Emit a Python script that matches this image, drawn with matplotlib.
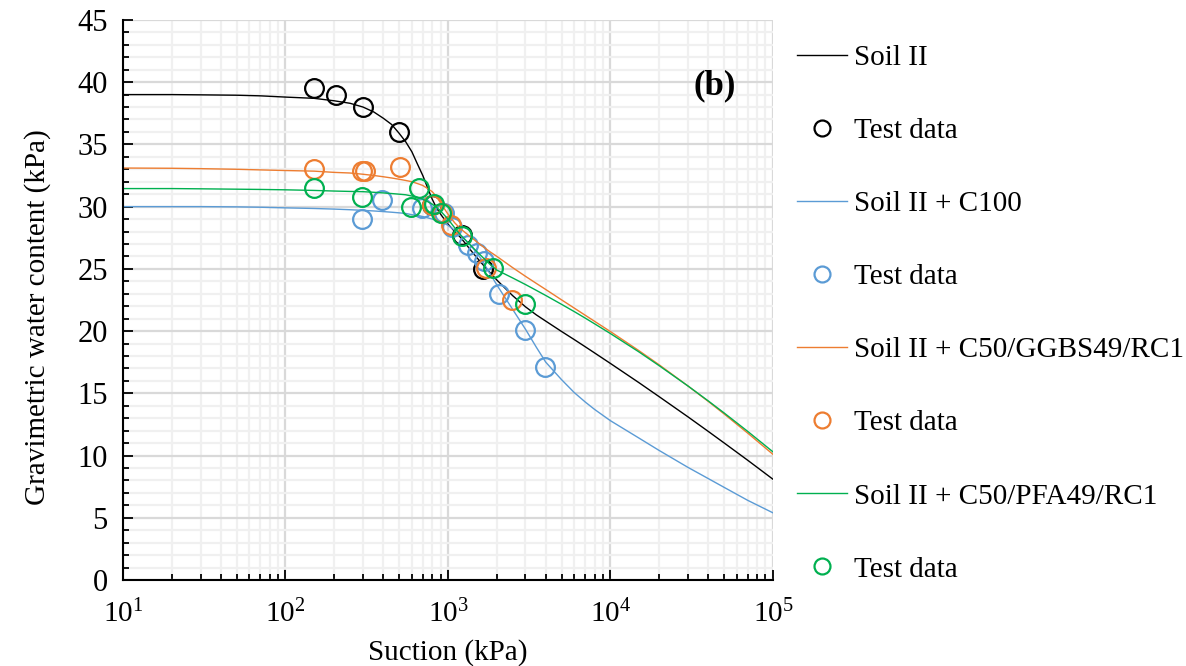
import matplotlib
matplotlib.use('Agg')
import matplotlib.pyplot as plt
from matplotlib.ticker import LogLocator, MultipleLocator, NullFormatter

plt.rcParams['font.family'] = ['Liberation Serif', 'DejaVu Serif']
plt.rcParams['mathtext.fontset'] = 'custom'
plt.rcParams['mathtext.rm'] = 'Liberation Serif'
plt.rcParams['mathtext.it'] = 'Liberation Serif:italic'

# fitted curves, suction (kPa) vs gravimetric water content
curve_suction = [10, 20, 30, 50, 70, 100, 150, 200, 250, 300, 350, 400, 450,
                 500, 550, 600, 650, 700, 750, 800, 850, 900, 1000, 1100, 1200,
                 1400, 1600, 1800, 2000, 2500, 3000, 3500, 4000, 5000, 6000,
                 7000, 8000, 10000, 15000, 20000, 30000, 40000, 50000, 70000,
                 100000]
soil2_fit = [39.0, 39.0, 38.98, 38.95, 38.9, 38.8, 38.7, 38.5, 38.3, 38.0, 37.6,
             37.1, 36.6, 35.9, 35.2, 34.4, 33.4, 32.5, 31.5, 30.6, 29.9, 29.4,
             28.6, 28.0, 27.5, 26.4, 25.5, 24.75, 24.1, 22.85, 21.95, 21.3,
             20.8, 19.97, 19.31, 18.74, 18.24, 17.4, 15.85, 14.72, 13.11, 11.94,
             11.02, 9.62, 8.1]
c100_fit = [30.0, 30.0, 30.0, 29.98, 29.95, 29.9, 29.85, 29.8, 29.75, 29.7,
            29.65, 29.6, 29.55, 29.5, 29.45, 29.35, 29.3, 29.2, 29.1, 29.0, 28.9,
            28.8, 28.5, 28.1, 27.7, 26.8, 25.8, 24.7, 23.7, 21.75, 20.15, 18.7,
            17.5, 16.1, 15.05, 14.3, 13.7, 12.8, 11.4, 10.4, 9.05, 8.15, 7.45,
            6.4, 5.4]
ggbs_fit = [33.1, 33.08, 33.05, 33.0, 32.95, 32.9, 32.85, 32.75, 32.7, 32.6,
            32.5, 32.4, 32.3, 32.2, 32.1, 32.0, 31.85, 31.7, 31.45, 31.2, 30.8,
            30.3, 29.4, 28.7, 28.2, 27.5, 26.9, 26.4, 26.0, 25.1, 24.4, 23.83,
            23.34, 22.51, 21.84, 21.27, 20.78, 19.96, 18.42, 17.28, 15.59, 14.35,
            13.35, 11.8, 10.1]
pfa_fit = [31.45, 31.45, 31.43, 31.4, 31.38, 31.35, 31.3, 31.25, 31.22, 31.2,
           31.15, 31.1, 31.05, 31.0, 30.95, 30.85, 30.75, 30.6, 30.4, 30.2,
           29.95, 29.65, 29.0, 28.3, 27.7, 26.8, 26.05, 25.4, 24.9, 24.27,
           23.74, 23.27, 22.86, 22.15, 21.56, 21.04, 20.58, 19.8, 18.32, 17.21,
           15.59, 14.39, 13.43, 11.94, 10.3]

# test data
soil2_s = [150, 205, 300, 500, 800, 1215, 1650]
soil2_w = [39.5, 39.0, 38.0, 36.0, 30.1, 27.7, 25.0]
c100_s = [297, 395, 689, 940, 1055, 1330, 1510, 1660, 2050, 2980, 3950]
c100_w = [29.0, 30.5, 29.9, 29.5, 28.4, 26.9, 26.3, 25.6, 23.0, 20.1, 17.1]
ggbs_s = [150, 295, 310, 505, 800, 920, 1050, 1720, 2470]
ggbs_w = [33.0, 32.9, 32.9, 33.2, 30.1, 29.5, 28.5, 25.1, 22.5]
pfa_s = [150, 297, 590, 663, 815, 905, 1213, 1900, 2980]
pfa_w = [31.5, 30.8, 30.0, 31.5, 30.2, 29.5, 27.6, 25.1, 22.2]

labels = ['Soil II', 'Soil II + C100', 'Soil II + C50/GGBS49/RC1',
          'Soil II + C50/PFA49/RC1']
colors = ['black', '#5b9bd5', '#ed7d31', '#00b050']

fig = plt.figure(figsize=(11.86, 6.66), dpi=100)
ax = fig.add_axes([0.1037, 0.1291, 0.548, 0.841])

fits = [soil2_fit, c100_fit, ggbs_fit, pfa_fit]
tests = [(soil2_s, soil2_w), (c100_s, c100_w), (ggbs_s, ggbs_w), (pfa_s, pfa_w)]
for lab, col, fit, (s, w) in zip(labels, colors, fits, tests):
    ax.plot(curve_suction, fit, color=col, lw=1.0, label=lab)
    ax.plot(s, w, linestyle='none', marker='o', markersize=13.5,
            markerfacecolor='none', markeredgecolor=col, markeredgewidth=1.6,
            label='Test data')

ax.set_xscale('log')
ax.set_xlim(10, 1e5)
ax.set_ylim(0, 45)
ax.xaxis.set_minor_locator(LogLocator(base=10, subs=range(2, 10)))
ax.xaxis.set_minor_formatter(NullFormatter())
ax.yaxis.set_major_locator(MultipleLocator(5))
ax.yaxis.set_minor_locator(MultipleLocator(1))

ax.grid(which='major', color='#d9d9d9', lw=1.6)
ax.grid(which='minor', color='#f0f0f0', lw=1.6)
ax.set_axisbelow(True)

for side in ['top', 'right']:
    ax.spines[side].set_visible(False)
for side in ['left', 'bottom']:
    ax.spines[side].set_linewidth(1.5)

ax.tick_params(which='both', direction='in', labelsize=21, width=1.3)
ax.tick_params(which='major', length=7)
ax.tick_params(which='minor', length=4.5)
ax.tick_params(axis='y', pad=11, labelsize=22)
ax.tick_params(axis='x', pad=14)

ax.set_xlabel('Suction (kPa)', fontsize=21, labelpad=8)
ax.set_ylabel('Gravimetric water content (kPa)', fontsize=21)
ax.yaxis.set_label_coords(-0.11, 0.47)

ax.text(0.91, 0.883, '(b)', transform=ax.transAxes, fontsize=25,
        fontweight='bold', ha='center', va='center')

fig.legend(loc='upper left', bbox_to_anchor=(0.672, 0.933), frameon=False,
           fontsize=21, labelspacing=1.6, handlelength=1.7, handletextpad=0.25,
           borderpad=0, borderaxespad=0, markerscale=0.85)

fig.savefig('out.png', dpi=100)
